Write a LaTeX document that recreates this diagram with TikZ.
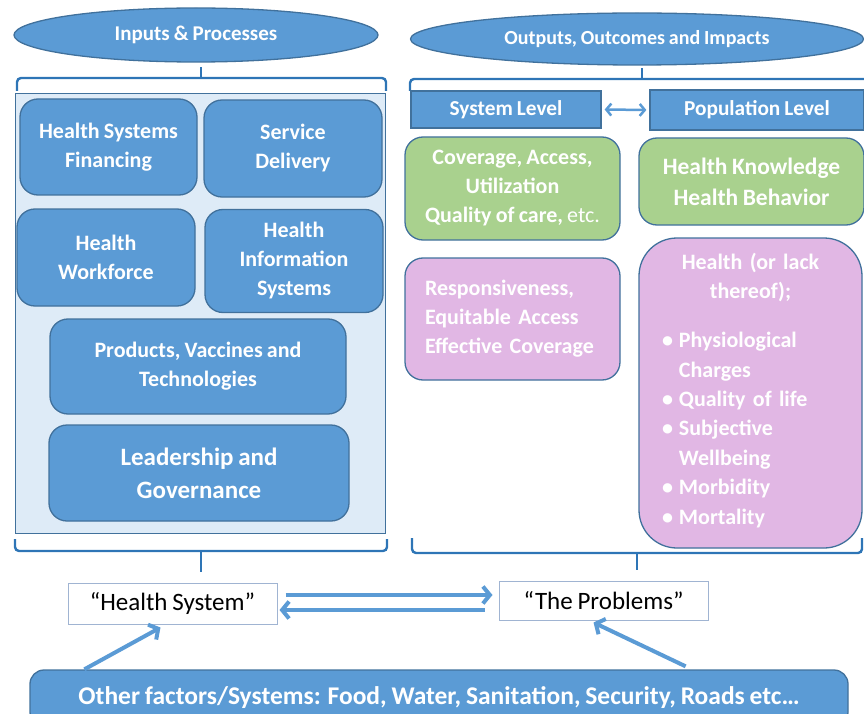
\documentclass[tikz,border=0pt]{standalone}
\usepackage{fontspec}
\setmainfont{Carlito}
\usetikzlibrary{arrows.meta,shapes.geometric,calc}

\definecolor{fillblue}{RGB}{91,155,213}
\definecolor{edgeblue}{RGB}{65,113,156}
\definecolor{brackblue}{RGB}{46,117,182}
\definecolor{panelblue}{RGB}{222,235,247}
\definecolor{leafgreen}{RGB}{169,209,142}
\definecolor{softpink}{RGB}{225,183,228}
\definecolor{framegray}{RGB}{160,180,210}

\newcommand{\boxfont}[2]{\bfseries\fontsize{#1}{#2}\selectfont\spaceskip=0.19em\relax}
\newcommand{\quotefont}{\fontsize{25}{30}\selectfont\spaceskip=0.19em\relax}

\tikzset{
    blockbox/.style={draw=edgeblue,fill=fillblue,line width=1.3pt,rounded corners=18pt,
        text=white,font=\boxfont{22}{29},align=center,inner sep=0pt},
    levelbox/.style={draw=edgeblue,fill=fillblue,line width=1.3pt,text=white,
        font=\boxfont{21.3}{26},inner sep=0pt},
    greenbox/.style={blockbox,fill=leafgreen},
    pinkbox/.style={blockbox,fill=softpink},
    headoval/.style={ellipse,draw=edgeblue,fill=fillblue,line width=1.3pt,text=white,
        font=\boxfont{21}{25},inner sep=0pt},
    quotebox/.style={draw=framegray,line width=1pt,fill=white,font=\quotefont,inner sep=0pt},
    bracket/.style={draw=brackblue,line width=2.4pt,rounded corners=4pt},
    flow/.style={draw=fillblue,line width=4pt,-{Straight Barb[length=7pt,width=17pt]}},
    twoway/.style={draw=fillblue,line width=2.5pt,{Straight Barb[length=5pt,width=12pt]}-{Straight Barb[length=5pt,width=12pt]}}
}

\begin{document}
\begin{tikzpicture}[x=1pt,y=-1pt]
    \useasboundingbox (0,0) rectangle (864,714);

    \node[headoval,minimum width=364,minimum height=54] (inputs) at (196,35) {Inputs \& Processes};
    \node[headoval,minimum width=453,minimum height=52,font=\boxfont{20}{24}] (outputs) at (637,39) {Outputs, Outcomes and Impacts};

    \draw[bracket] (17,91) -- (17,78) -- (386,78) -- (386,91);
    \draw[bracket,rounded corners=0pt] (201,78) -- (201,67);
    \draw[bracket] (410,91) -- (410,79) -- (870,79);
    \draw[bracket,rounded corners=0pt] (642,79) -- (642,68);

    \node[draw=edgeblue,fill=panelblue,line width=1pt,minimum width=370,minimum height=439,inner sep=0pt] (panel) at (200,313.5) {};

    \node[blockbox,minimum width=177,minimum height=96] (finance) at (108.5,147) {Health Systems\\Financing};
    \node[blockbox,minimum width=178,minimum height=97] (delivery) at (293,148.5) {Service\\Delivery};
    \node[blockbox,minimum width=178,minimum height=97] (workforce) at (106,257.5) {Health\\Workforce};
    \node[blockbox,minimum width=178,minimum height=103] (infosys) at (294,261) {Health\\Information\\Systems};
    \node[blockbox,minimum width=296,minimum height=95] (products) at (198,366.5) {Products, Vaccines and\\Technologies};
    \node[blockbox,minimum width=300,minimum height=96,font=\boxfont{25}{33}] (leadership) at (199,473) {Leadership and\\Governance};

    \node[levelbox,minimum width=190,minimum height=37] (syslevel) at (506,109.5) {System Level};
    \node[levelbox,minimum width=214,minimum height=40] (poplevel) at (757,110) {Population Level};
    \draw[twoway] ([xshift=3pt]syslevel.east) -- ([xshift=-3pt]poplevel.west);

    \node[greenbox,minimum width=215,minimum height=103] (coverage) at (512.5,188.5)
        {Coverage, Access,\\Utilization\\Quality of care, {\mdseries etc.}};
    \node[greenbox,minimum width=225,minimum height=87,font=\boxfont{23.5}{31}] (knowledge) at (751.5,181.5)
        {Health Knowledge\\Health Behavior};
    \node[pinkbox,minimum width=215,minimum height=122,align=left,text width=175] (respons) at (512.5,319)
        {Responsiveness,\\Equitable Access\\Effective Coverage};
    \node[pinkbox,minimum width=223,minimum height=310,rounded corners=38pt,align=left,text width=177,
          font=\boxfont{22}{29.4}] (health) at (750.5,393)
        {{\centering Health (or lack\\thereof);\par}
         \vspace{24pt}
         \begin{tabular}{@{}l@{\hspace{6pt}}l@{}}
            \textbullet & Physiological\\
                        & Charges\\
            \textbullet & Quality of life\\
            \textbullet & Subjective\\
                        & Wellbeing\\
            \textbullet & Morbidity\\
            \textbullet & Mortality
         \end{tabular}};

    \draw[bracket] (15,539) -- (15,551) -- (387,551) -- (387,539);
    \draw[bracket,rounded corners=0pt] (201,551) -- (201,572);
    \draw[bracket] (412,538) -- (412,553) -- (862,553) -- (862,538);
    \draw[bracket,rounded corners=0pt] (637,553) -- (637,570);

    \node[quotebox,minimum width=209,minimum height=41] (hsystem) at (172.5,603.5) {“Health System”};
    \node[quotebox,minimum width=209,minimum height=39] (problems) at (603.5,600.5) {“The Problems”};
    \node[blockbox,minimum width=818,minimum height=56,rounded corners=14pt,font=\boxfont{25.5}{30}] (others) at (439,698)
        {Other factors/Systems: Food, Water, Sanitation, Security, Roads etc…};

    \draw[flow] ([xshift=8pt,yshift=8.5pt]hsystem.east) -- ([xshift=-6pt,yshift=5.5pt]problems.west);
    \draw[flow] ([xshift=-14pt,yshift=-9.5pt]problems.west) -- ([xshift=2pt,yshift=-6.5pt]hsystem.east);
    \draw[flow] ([xshift=55pt]others.north west) -- ([xshift=-12pt,yshift=-3pt]hsystem.south);
    \draw[flow] ([xshift=-163pt,yshift=3pt]others.north east) -- ([xshift=-10pt,yshift=-2pt]problems.south);
\end{tikzpicture}
\end{document}
